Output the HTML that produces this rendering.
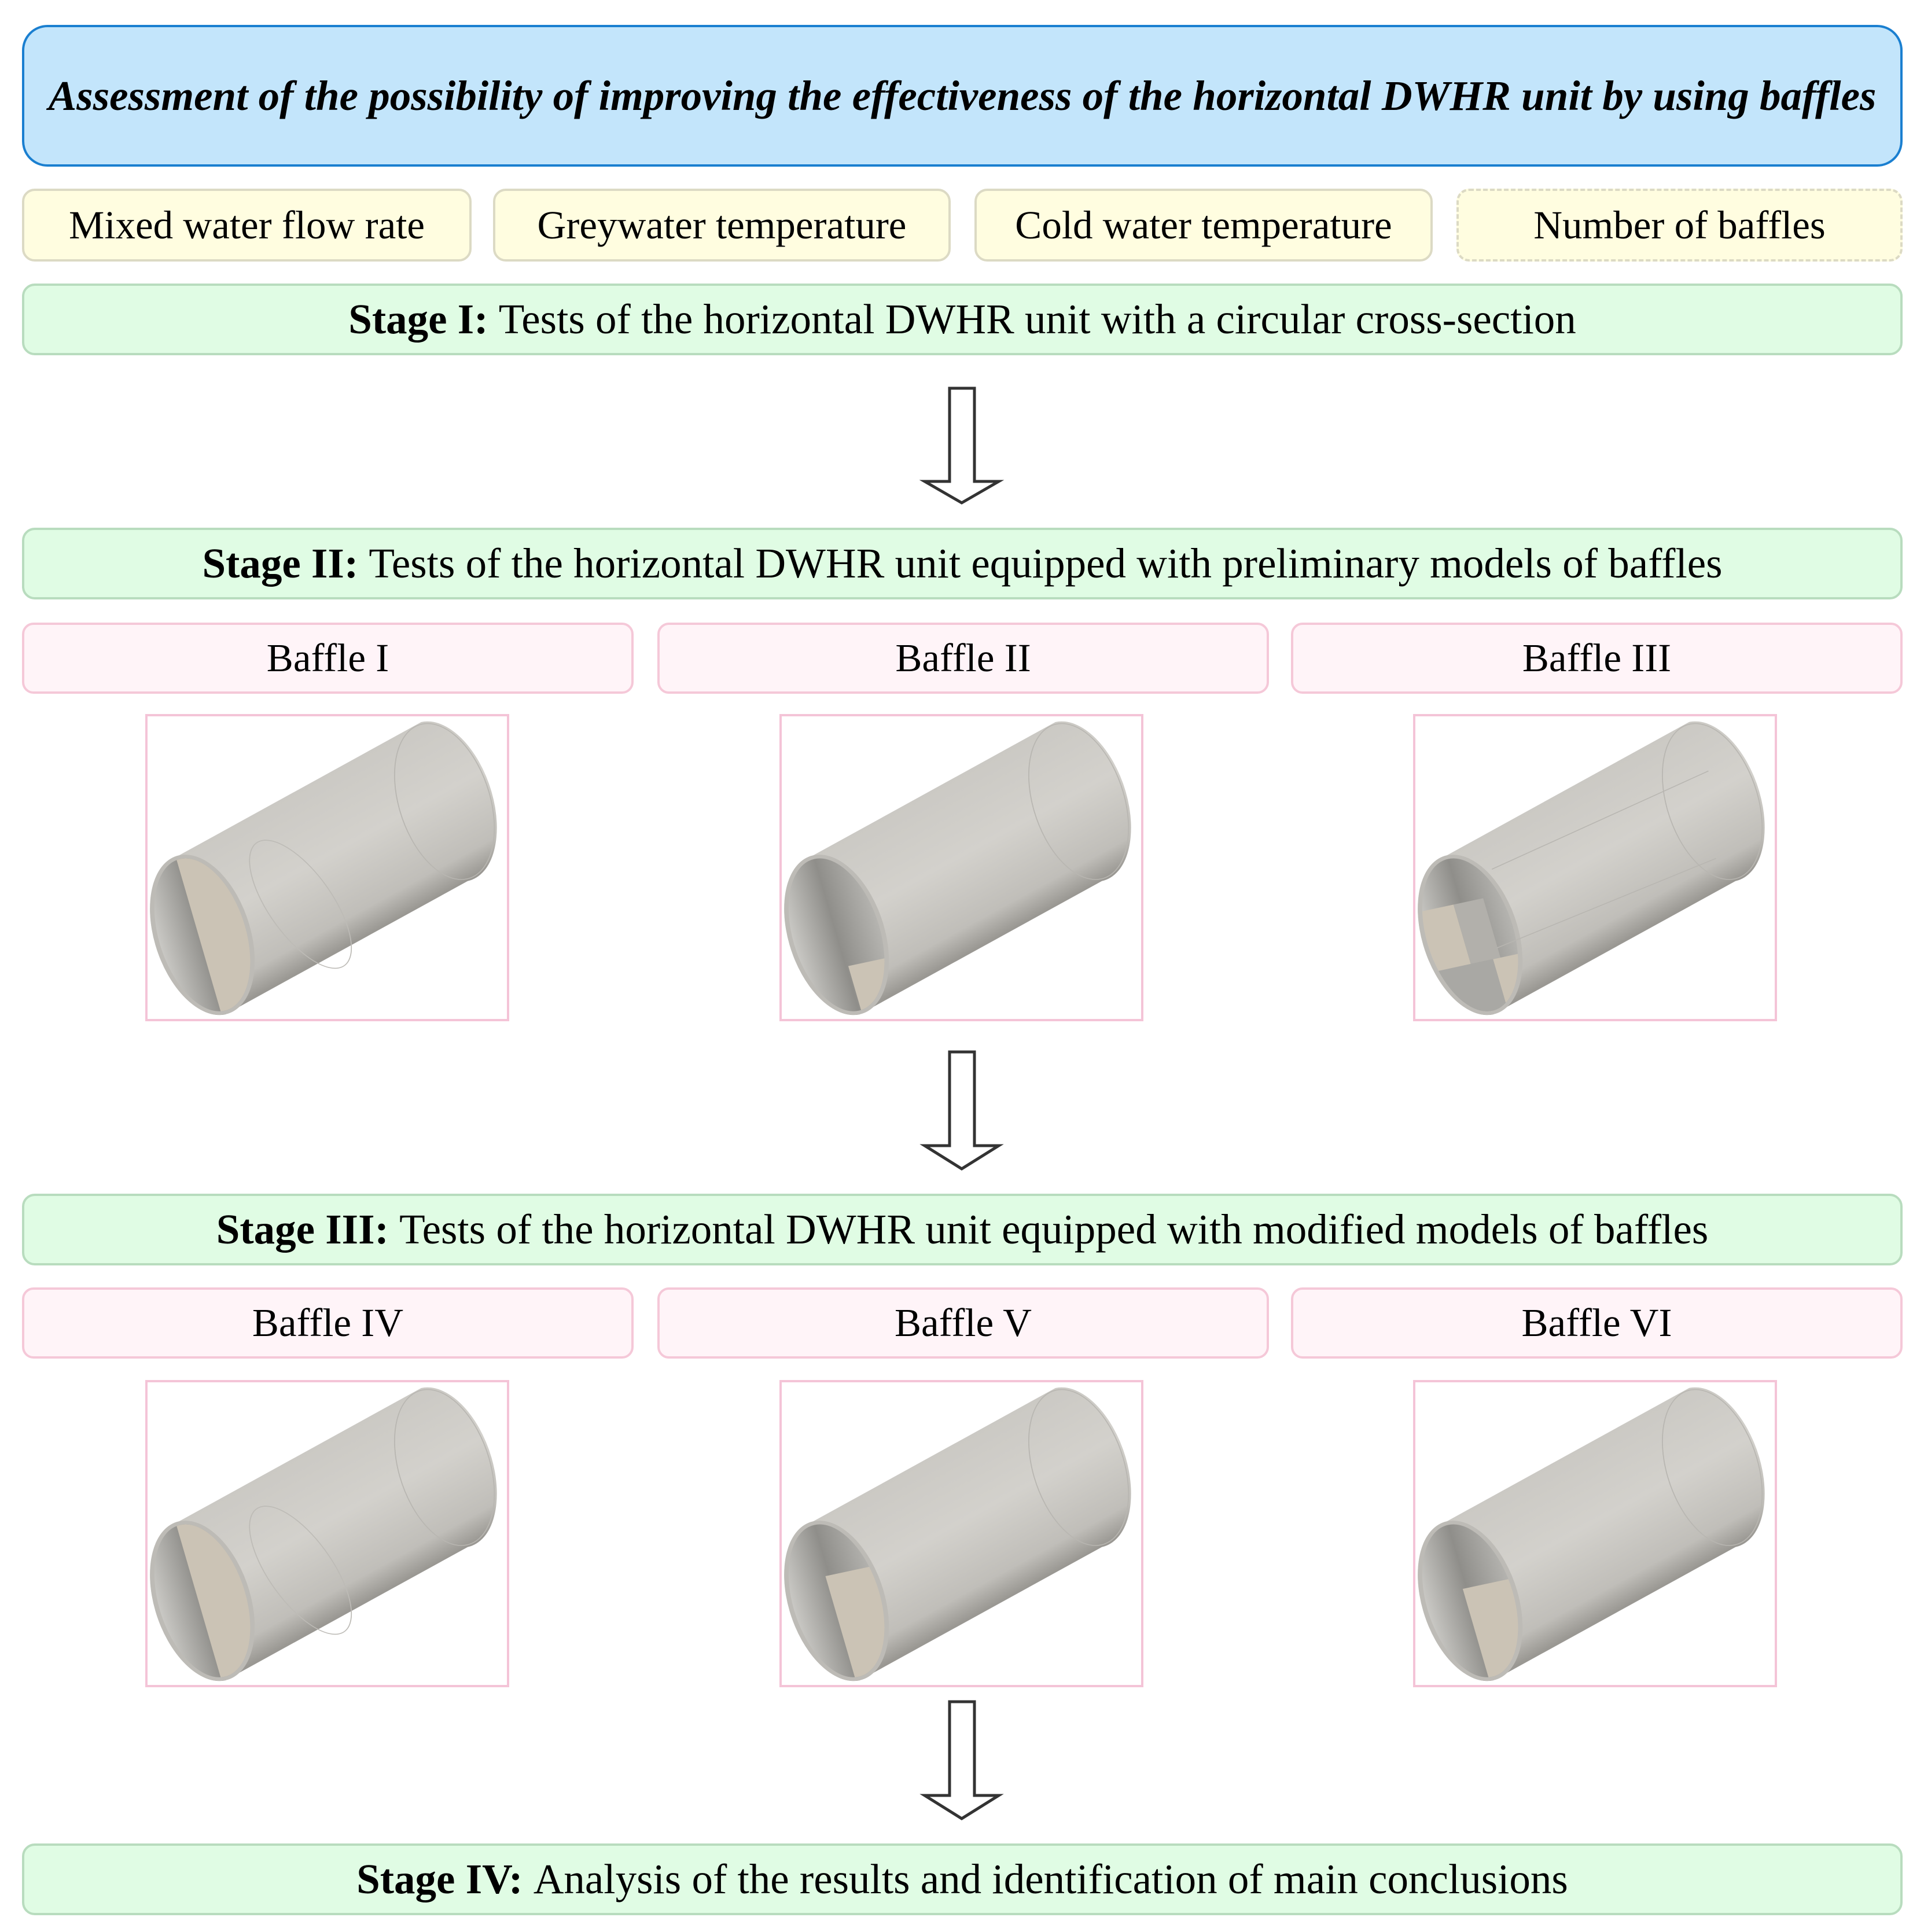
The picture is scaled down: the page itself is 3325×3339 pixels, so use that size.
<!DOCTYPE html>
<html><head><meta charset="utf-8"><style>
body{margin:0;width:3325px;height:3339px;background:#fff;position:relative;overflow:hidden;font-family:"Liberation Serif",serif;color:#000}
.b{position:absolute;box-sizing:border-box;display:flex;align-items:center;justify-content:center;white-space:nowrap}
.t{left:38px;top:43px;width:3250px;height:245px;background:#c3e5fb;border:4px solid #1a7fd0;border-radius:44px;font-size:73px;font-weight:bold;font-style:italic}
.p{top:326px;height:126px;width:777px;background:#fffde0;border:4px solid #dcdac4;border-radius:22px;font-size:69px}
.s{left:38px;width:3250px;height:124px;background:#e0fce4;border:4px solid #b8dcbe;border-radius:22px;font-size:73px}
.l{height:123px;width:1057px;background:#fff4f8;border:4px solid #f5c8d8;border-radius:20px;font-size:69px}
.im{position:absolute;width:629px;height:531px;box-sizing:border-box;border:4px solid #f4c4d7}
.im svg{position:absolute;left:0;top:0;width:100%;height:100%}
</style></head><body>
<svg width="0" height="0" style="position:absolute">
<defs>
<linearGradient id="body" gradientUnits="userSpaceOnUse" x1="600" y1="331" x2="978" y2="925">
<stop offset="0" stop-color="#cbc9c4"/><stop offset="0.45" stop-color="#d3d1cc"/><stop offset="0.85" stop-color="#c0beb9"/><stop offset="1" stop-color="#9a9893"/></linearGradient>
<linearGradient id="inn" x1="0" y1="0" x2="1" y2="0"><stop offset="0" stop-color="#c9c8c4"/><stop offset="0.5" stop-color="#8f8e8a"/><stop offset="1" stop-color="#b5b4b0"/></linearGradient>
<clipPath id="ce" clipPathUnits="userSpaceOnUse"><ellipse cx="0" cy="0" rx="172" ry="358"/></clipPath>
<g id="cyl">
<path d="M124,636 L1074,26 A190 375 -14 0 1 1256,754 L306,1364 A190 375 -14 0 1 124,636 Z" fill="url(#body)"/>
<ellipse cx="1165" cy="390" rx="180" ry="365" transform="rotate(-14 1165 390)" fill="none" stroke="#b8b6b1" stroke-width="4"/>
<g transform="translate(215,1000) rotate(-14)"><ellipse rx="190" ry="375" fill="#bdbbb6"/><ellipse rx="172" ry="358" fill="url(#inn)"/></g>
</g>
</defs></svg>

<div class="b t">Assessment of the possibility of improving the effectiveness of the horizontal DWHR unit by using baffles</div>
<div class="b p" style="left:38px">Mixed water flow rate</div>
<div class="b p" style="left:852px;width:791px">Greywater temperature</div>
<div class="b p" style="left:1684px;width:792px">Cold water temperature</div>
<div class="b p" style="left:2517px;width:771px;border-style:dashed">Number of baffles</div>
<div class="b s" style="top:490px"><b>Stage I:</b>&nbsp;Tests of the horizontal DWHR unit with a circular cross-section</div>
<div class="b s" style="top:912px"><b>Stage II:</b>&nbsp;Tests of the horizontal DWHR unit equipped with preliminary models of baffles</div>
<div class="b s" style="top:2063px"><b>Stage III:</b>&nbsp;Tests of the horizontal DWHR unit equipped with modified models of baffles</div>
<div class="b s" style="top:3186px"><b>Stage IV:</b>&nbsp;Analysis of the results and identification of main conclusions</div>

<div class="b l" style="left:38px;top:1076px">Baffle I</div>
<div class="b l" style="left:1136px;top:1076px">Baffle II</div>
<div class="b l" style="left:2231px;top:1076px">Baffle III</div>
<div class="b l" style="left:38px;top:2225px">Baffle IV</div>
<div class="b l" style="left:1136px;top:2225px">Baffle V</div>
<div class="b l" style="left:2231px;top:2225px">Baffle VI</div>

<svg width="3325" height="3339" style="position:absolute;left:0;top:0" fill="#fff" stroke="#333" stroke-width="5">
<path d="M1641,671 H1684 V832 H1726 L1662,869 L1598,832 H1641 Z"/>
<path d="M1641,1818 H1684 V1980 H1726 L1662,2020 L1598,1980 H1641 Z"/>
<path d="M1641,2941 H1684 V3103 H1726 L1662,3143 L1598,3103 H1641 Z"/>
</svg>

<div class="im" style="left:251px;top:1234px"><svg viewBox="0 0 1410 1385" preserveAspectRatio="none"><use href="#cyl"/>
<g transform="translate(215,1000) rotate(-14)"><rect x="-15" y="-360" width="200" height="720" fill="#cbc3b5" clip-path="url(#ce)"/></g>
<ellipse cx="600" cy="860" rx="130" ry="330" transform="rotate(-30 600 860)" fill="none" stroke="#bdbbb6" stroke-width="4"/></svg></div>
<div class="im" style="left:1347px;top:1234px"><svg viewBox="0 0 1410 1385" preserveAspectRatio="none"><use href="#cyl"/>
<g transform="translate(215,1000) rotate(-14)"><rect x="10" y="150" width="180" height="220" fill="#cbc3b5" clip-path="url(#ce)"/></g></svg></div>
<div class="im" style="left:2442px;top:1234px"><svg viewBox="0 0 1410 1385" preserveAspectRatio="none"><use href="#cyl"/>
<g transform="translate(215,1000) rotate(-14)" clip-path="url(#ce)"><rect x="-200" y="-150" width="170" height="280" fill="#cbc3b5"/><rect x="-30" y="-150" width="120" height="280" fill="#b2b0ab"/><rect x="60" y="130" width="130" height="240" fill="#cbc3b5"/><rect x="-200" y="130" width="260" height="240" fill="#a9a8a4"/></g>
<path d="M300,700 L1150,250 M320,1060 L1180,650" stroke="#b8b6b1" stroke-width="4" fill="none"/></svg></div>

<div class="im" style="left:251px;top:2385px"><svg viewBox="0 0 1410 1385" preserveAspectRatio="none"><use href="#cyl"/>
<g transform="translate(215,1000) rotate(-14)"><rect x="-15" y="-360" width="200" height="720" fill="#cbc3b5" clip-path="url(#ce)"/></g>
<ellipse cx="600" cy="860" rx="130" ry="330" transform="rotate(-30 600 860)" fill="none" stroke="#bdbbb6" stroke-width="4"/></svg></div>
<div class="im" style="left:1347px;top:2385px"><svg viewBox="0 0 1410 1385" preserveAspectRatio="none"><use href="#cyl"/>
<g transform="translate(215,1000) rotate(-14)"><rect x="-15" y="-120" width="200" height="480" fill="#cbc3b5" clip-path="url(#ce)"/></g></svg></div>
<div class="im" style="left:2442px;top:2385px"><svg viewBox="0 0 1410 1385" preserveAspectRatio="none"><use href="#cyl"/>
<g transform="translate(215,1000) rotate(-14)"><rect x="-15" y="-60" width="200" height="420" fill="#cbc3b5" clip-path="url(#ce)"/></g></svg></div>
</body></html>
